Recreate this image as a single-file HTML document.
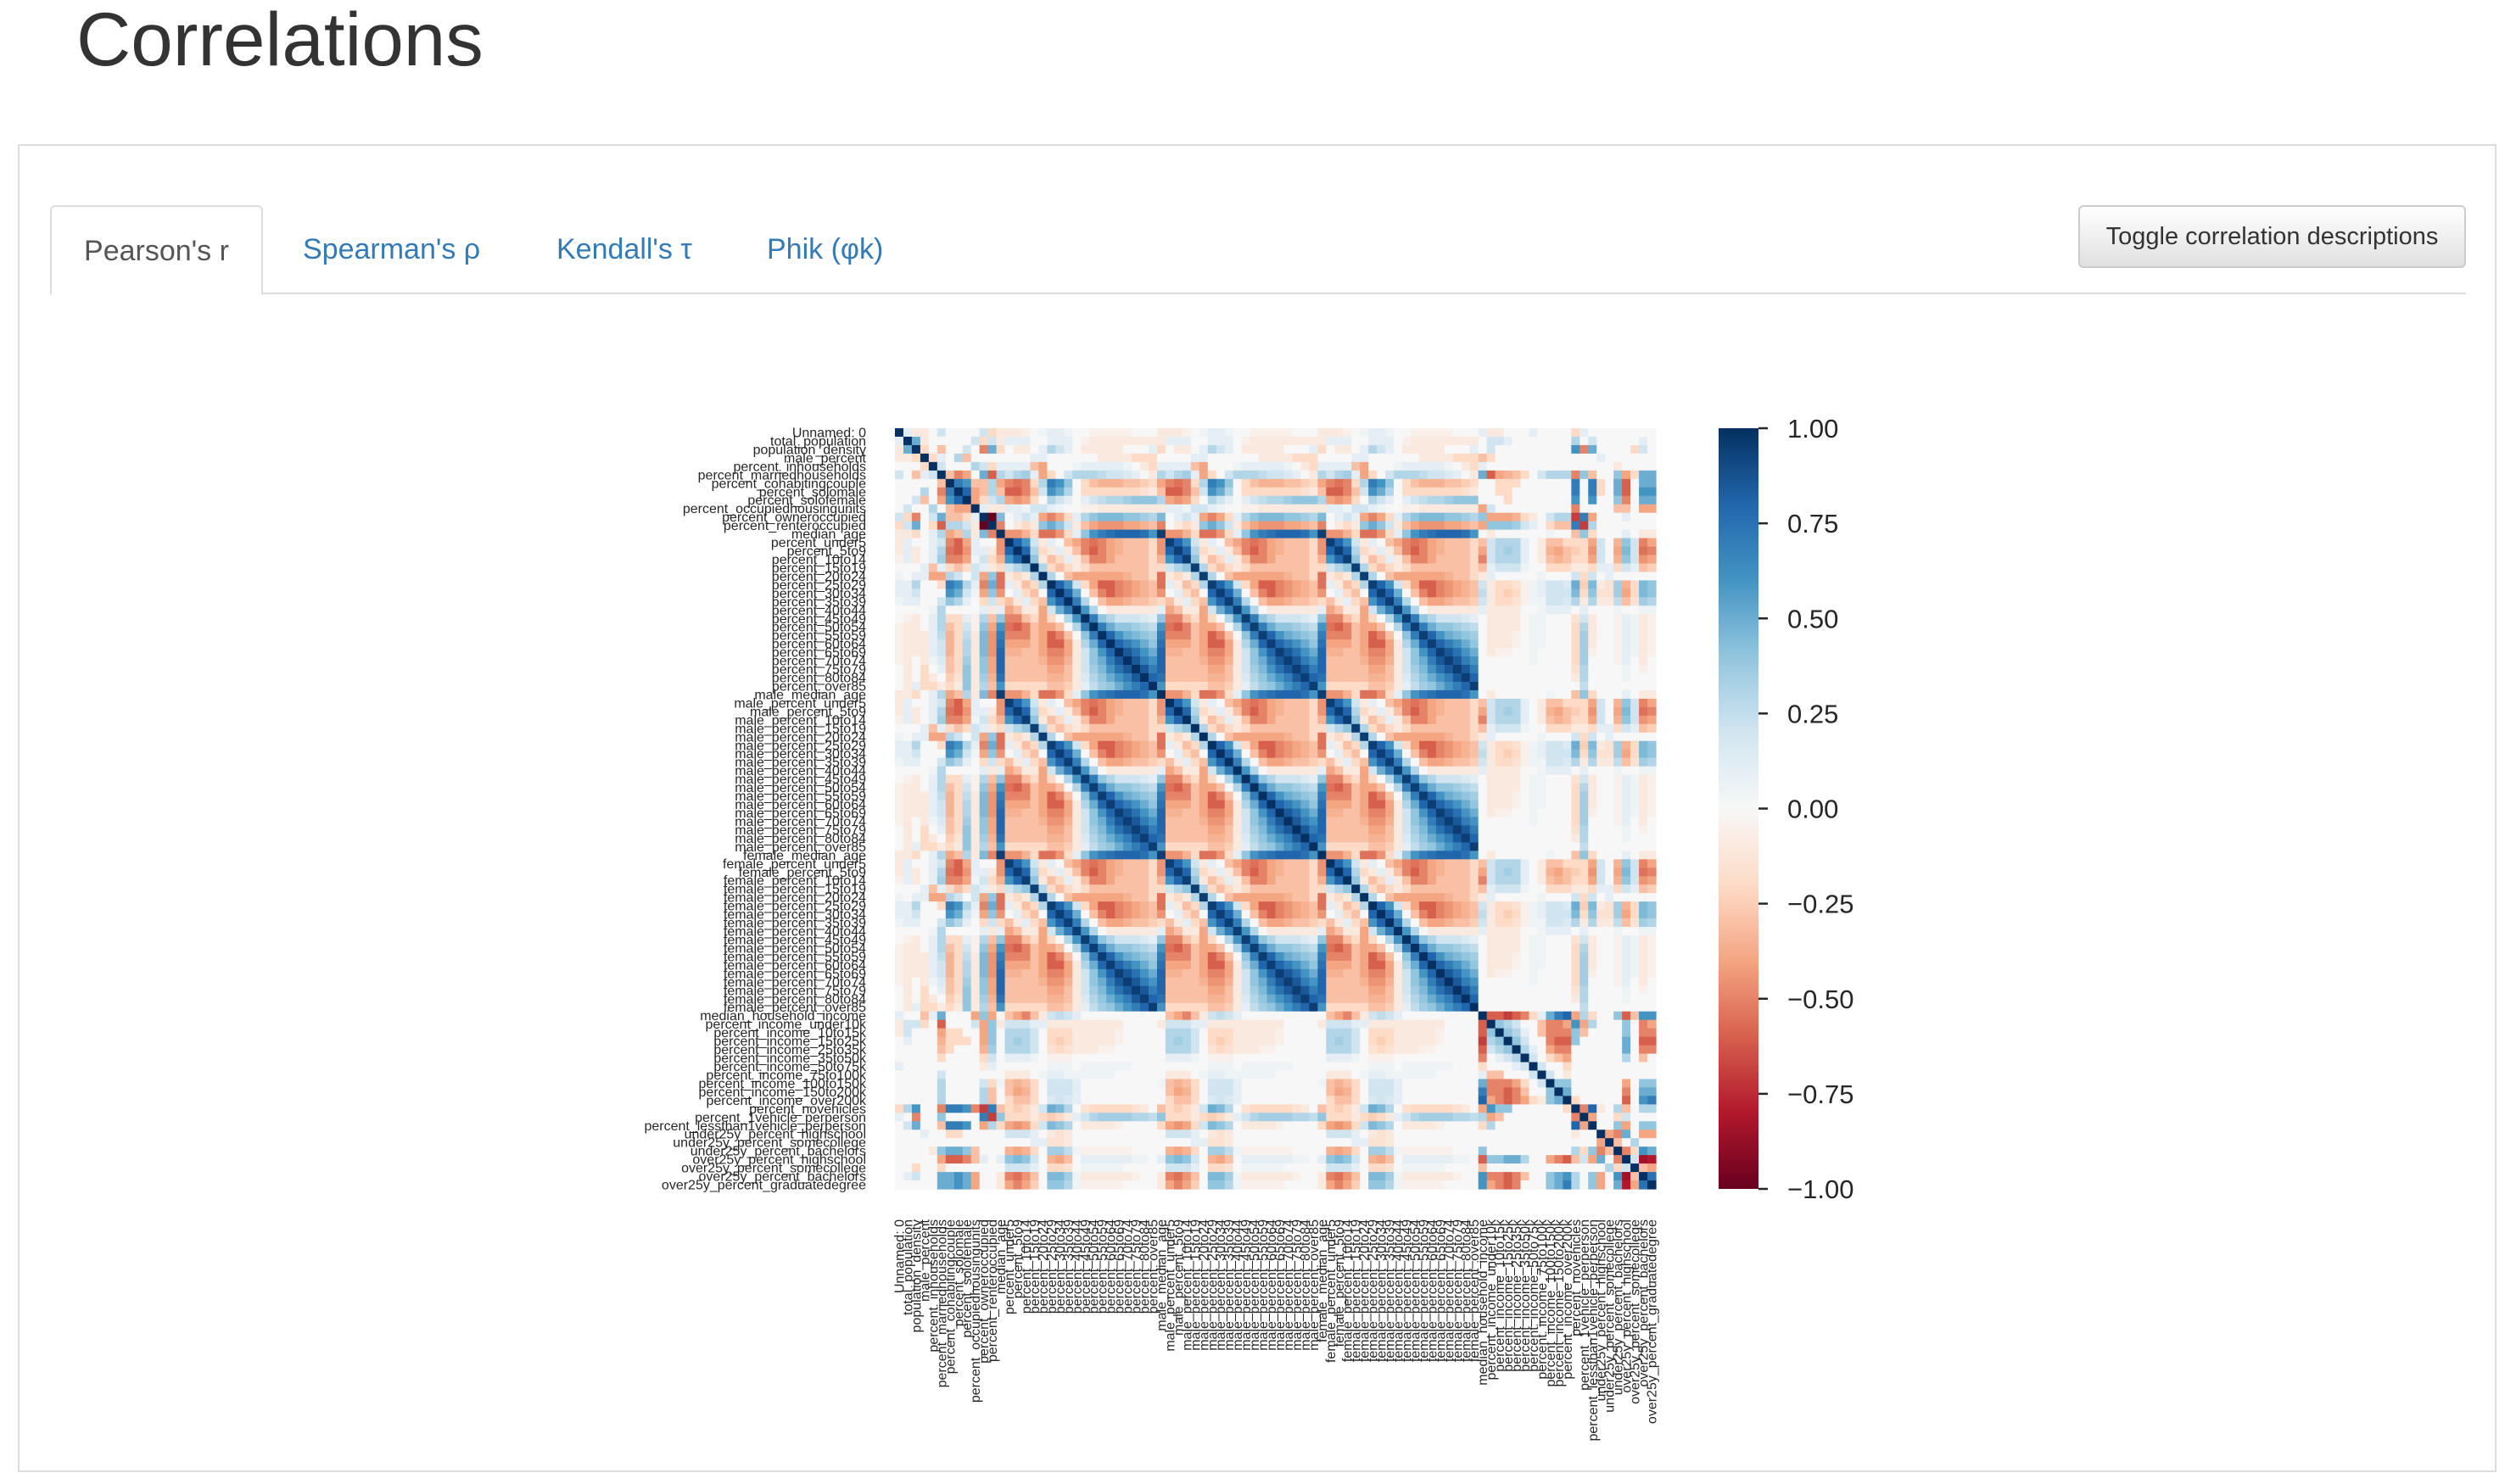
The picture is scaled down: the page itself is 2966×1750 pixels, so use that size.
<!DOCTYPE html>
<html><head><meta charset="utf-8">
<style>
html,body{margin:0;padding:0;background:#fff;}
body{width:2966px;height:1750px;position:relative;overflow:hidden;font-family:"Liberation Sans",Arial,sans-serif;color:#333;}
#title{position:absolute;left:90px;top:-5px;font-size:89px;font-weight:400;color:#333;margin:0;}
#panel{position:absolute;left:21px;top:170px;width:2922px;height:1566px;border:2px solid #ddd;box-sizing:border-box;}
#tabline{position:absolute;left:59px;top:345px;width:2848px;height:2px;background:#ddd;}
.tab{position:absolute;top:242px;height:104px;line-height:104px;font-size:34px;color:#337ab7;}
#tab-active{left:59px;width:251px;border:2px solid #ddd;border-bottom:2px solid #fff;box-sizing:border-box;text-align:center;color:#555;background:#fff;height:106px;border-radius:6px 6px 0 0;}
#btn{position:absolute;left:2450px;top:242px;width:457px;height:74px;box-sizing:border-box;border:2px solid #ccc;border-radius:6px;background:linear-gradient(#fff,#e0e0e0);font-size:29px;line-height:70px;text-align:center;color:#333;}
svg{position:absolute;left:0;top:0;}
</style></head>
<body>
<h1 id="title">Correlations</h1>
<div id="panel"></div>
<div id="tabline"></div>
<div class="tab" id="tab-active">Pearson's r</div>
<div class="tab" style="left:357px">Spearman's ρ</div>
<div class="tab" style="left:656px">Kendall's τ</div>
<div class="tab" style="left:904px">Phik (φk)</div>
<div id="btn">Toggle correlation descriptions</div>
<svg id="chart" width="2966" height="1750"></svg>
<script>
const labels = ["Unnamed: 0","total_population","population_density","male_percent","percent_inhouseholds","percent_marriedhouseholds","percent_cohabitingcouple","percent_solomale","percent_solofemale","percent_occupiedhousingunits","percent_owneroccupied","percent_renteroccupied"];
const ageNames = ["median_age","percent_under5","percent_5to9","percent_10to14","percent_15to19","percent_20to24","percent_25to29","percent_30to34","percent_35to39","percent_40to44","percent_45to49","percent_50to54","percent_55to59","percent_60to64","percent_65to69","percent_70to74","percent_75to79","percent_80to84","percent_over85"];
const tailLabels = ["median_household_income","percent_income_under10k","percent_income_10to15k","percent_income_15to25k","percent_income_25to35k","percent_income_35to50k","percent_income_50to75k","percent_income_75to100k","percent_income_100to150k","percent_income_150to200k","percent_income_over200k","percent_novehicles","percent_1vehicle_perperson","percent_lessthan1vehicle_perperson","under25y_percent_highschool","under25y_percent_somecollege","under25y_percent_bachelors","over25y_percent_highschool","over25y_percent_somecollege","over25y_percent_bachelors","over25y_percent_graduatedegree"];
const ageCorr = [
[1,-.45,-.45,-.35,-.2,-.55,-.55,-.45,-.2,.1,.4,.6,.7,.75,.8,.8,.8,.75,.6],
[-.45,1,.8,.6,.2,-.1,.1,0,-.3,-.4,-.5,-.55,-.5,-.4,-.35,-.3,-.3,-.3,-.2],
[-.45,.8,1,.8,.3,-.2,-.1,.1,-.1,-.3,-.5,-.6,-.5,-.4,-.35,-.3,-.3,-.3,-.2],
[-.35,.6,.8,1,.4,-.1,-.3,-.2,.1,-.1,-.3,-.5,-.5,-.4,-.3,-.3,-.3,-.3,-.2],
[-.2,.2,.3,.4,1,.3,-.2,-.3,-.2,-.1,-.2,-.3,-.3,-.3,-.3,-.3,-.3,-.3,-.2],
[-.55,-.1,-.2,-.1,.3,1,.3,0,-.3,-.4,-.4,-.4,-.4,-.4,-.4,-.35,-.3,-.3,-.2],
[-.55,.1,-.1,-.3,-.2,.3,1,.8,.6,.2,-.2,-.4,-.6,-.6,-.5,-.45,-.4,-.35,-.3],
[-.45,0,.1,-.2,-.3,0,.8,1,.8,.5,0,-.3,-.5,-.6,-.5,-.45,-.4,-.35,-.3],
[-.2,-.3,-.1,.1,-.2,-.3,.6,.8,1,.7,.3,0,-.3,-.4,-.4,-.35,-.3,-.3,-.25],
[.1,-.4,-.3,-.1,-.1,-.4,.2,.5,.7,1,.6,.3,0,-.1,-.1,-.1,-.1,-.1,-.1],
[.4,-.5,-.5,-.3,-.2,-.4,-.2,0,.3,.6,1,.7,.4,.3,.2,.2,.2,.15,.1],
[.6,-.55,-.6,-.5,-.3,-.4,-.4,-.3,0,.3,.7,1,.7,.5,.4,.4,.35,.3,.25],
[.7,-.5,-.5,-.5,-.3,-.4,-.6,-.5,-.3,0,.4,.7,1,.8,.6,.5,.45,.4,.35],
[.75,-.4,-.4,-.4,-.3,-.4,-.6,-.6,-.4,-.1,.3,.5,.8,1,.8,.7,.6,.5,.4],
[.8,-.35,-.35,-.3,-.3,-.4,-.5,-.5,-.4,-.1,.2,.4,.6,.8,1,.85,.75,.6,.5],
[.8,-.3,-.3,-.3,-.3,-.35,-.45,-.45,-.35,-.1,.2,.4,.5,.7,.85,1,.85,.7,.6],
[.8,-.3,-.3,-.3,-.3,-.3,-.4,-.4,-.3,-.1,.2,.35,.45,.6,.75,.85,1,.85,.7],
[.75,-.3,-.3,-.3,-.3,-.3,-.35,-.35,-.3,-.1,.15,.3,.4,.5,.6,.7,.85,1,.8],
[.6,-.2,-.2,-.2,-.2,-.2,-.3,-.3,-.25,-.1,.1,.25,.35,.4,.5,.6,.7,.8,1]];
const crossDiag = 0.95;
const ageOther = [
[-.1,-.1,-.1,-.05,0,.05,.1,.1,.05,0,0,-.05,-.05,-.05,-.05,-.05,0,0,0],
[-.1,.1,.1,.1,0,0,.1,.1,.1,0,-.05,-.1,-.1,-.1,-.1,-.1,-.1,-.1,-.1],
[-.2,0,-.1,-.1,0,.1,.3,.2,.1,0,-.1,-.1,-.1,-.1,-.1,0,0,0,.1],
[0,0,0,0,.1,.1,0,0,0,0,0,0,-.1,-.1,-.1,-.1,-.2,-.2,-.2],
[.1,.1,.1,.1,-.3,-.4,0,0,0,.05,.1,.1,.1,.1,.1,.05,0,-.1,-.2],
[.3,.2,.3,.35,.1,-.4,-.2,0,.2,.3,.3,.3,.25,.2,.2,.15,.1,0,-.1],
[-.4,-.5,-.55,-.5,-.2,.3,.7,.6,.4,0,-.2,-.3,-.35,-.35,-.35,-.3,-.3,-.25,-.2],
[-.3,-.6,-.6,-.5,-.3,.2,.6,.5,.3,0,-.2,-.2,-.2,-.2,-.2,-.2,-.2,-.15,-.1],
[.3,-.4,-.45,-.4,-.2,0,.3,.2,.1,0,.1,.2,.25,.3,.3,.35,.4,.4,.4],
[-.1,.1,.1,.05,.2,.2,.1,.05,0,0,-.05,-.05,-.1,-.1,-.1,-.1,-.1,-.1,-.1],
[.45,0,.1,.2,.1,-.4,-.5,-.4,-.2,.1,.3,.4,.45,.45,.45,.4,.4,.35,.3],
[-.5,0,-.1,-.2,-.1,.4,.5,.4,.2,-.1,-.3,-.4,-.45,-.45,-.45,-.4,-.4,-.35,-.3],
[0,-.3,-.4,-.5,-.3,-.1,.2,.25,.2,.1,0,0,0,0,0,0,0,0,0],
[-.1,.2,.2,.2,.1,.1,-.1,-.1,-.1,-.1,-.1,-.1,-.1,-.1,-.1,0,0,0,0],
[0,.3,.3,.3,.2,0,-.2,-.2,-.2,-.1,-.1,-.1,-.1,-.1,-.05,0,0,0,0],
[0,.3,.35,.3,.2,0,-.2,-.25,-.2,-.1,-.1,-.1,-.1,-.1,-.05,0,0,0,0],
[0,.3,.3,.3,.2,0,-.15,-.2,-.15,-.1,-.1,-.1,-.05,-.05,0,0,0,0,0],
[0,.1,.1,.1,.05,0,-.05,-.05,-.05,0,0,0,0,0,0,0,0,0,0],
[0,0,0,0,0,0,.05,.05,.05,0,.05,.05,.05,.05,.05,.05,0,0,0],
[0,-.1,-.1,-.1,0,.05,.1,.1,.05,.05,.05,.05,.05,.05,0,0,0,0,0],
[.05,-.3,-.35,-.3,-.2,0,.2,.2,.2,.1,0,0,0,0,0,0,0,0,0],
[0,-.3,-.4,-.35,-.2,0,.2,.2,.2,.1,0,0,0,0,0,0,0,0,0],
[0,-.2,-.3,-.3,-.2,0,.15,.2,.15,.1,0,0,0,0,0,0,0,0,0],
[-.3,-.2,-.25,-.2,-.1,.2,.5,.45,.3,0,-.15,-.2,-.2,-.2,-.2,-.2,-.15,-.1,0],
[.4,-.2,-.2,-.2,-.1,-.2,-.25,-.2,-.1,.1,.2,.3,.35,.35,.35,.35,.3,.3,.25],
[-.2,-.4,-.45,-.4,-.2,.2,.45,.4,.3,0,-.1,-.1,-.1,-.1,-.05,0,0,0,0],
[0,.2,.2,.2,.1,0,-.1,-.15,-.1,0,0,0,0,0,0,0,0,0,0],
[0,0,0,0,.1,.1,-.15,-.15,-.1,0,0,0,0,0,0,0,0,0,0],
[0,-.35,-.4,-.35,-.2,0,.35,.35,.25,.05,-.05,-.05,-.05,-.05,-.05,-.05,0,0,0],
[.1,.4,.45,.4,.2,0,-.35,-.4,-.3,0,.1,.1,.1,.1,.1,.1,.05,.05,0],
[0,.2,.2,.2,.1,0,-.2,-.2,-.15,0,.05,.05,.05,.05,.05,0,0,0,0],
[-.1,-.5,-.55,-.45,-.3,0,.45,.45,.35,.05,-.1,-.1,-.1,-.1,-.1,-.1,-.05,0,0],
[-.1,-.4,-.5,-.4,-.25,0,.4,.4,.3,.05,-.05,-.05,-.05,-.05,-.05,0,0,0,0]];
const otherPairs = [
[0,1,.1],[0,2,-.1],[0,3,-.1],[0,5,.2],[0,10,.2],[0,11,-.2],[0,12,.1],[0,13,-.1],[0,14,-.1],[0,18,.1],[0,23,-.2],[0,24,.1],
[1,2,.5],[1,3,-.1],[1,9,.2],[1,10,-.2],[1,11,.2],[1,13,.2],[1,14,.2],[1,15,.1],[1,23,.3],[1,25,.2],[1,31,.1],
[2,3,-.2],[2,5,-.3],[2,8,.2],[2,10,-.5],[2,11,.5],[2,13,.2],[2,23,.6],[2,24,-.5],[2,25,.5],[2,30,-.2],[2,31,.2],
[3,4,-.2],[3,5,.1],[3,7,.3],[3,8,-.3],[3,12,-.3],[3,13,-.2],[3,26,.1],
[4,5,.2],[4,9,.3],[4,10,.2],[4,11,-.2],[4,12,.1],[4,28,-.1],
[5,6,-.3],[5,7,-.5],[5,8,-.4],[5,10,.5],[5,11,-.6],[5,12,.5],[5,13,-.6],[5,14,-.4],[5,15,-.35],[5,16,-.3],[5,17,-.2],[5,19,.2],[5,20,.3],[5,21,.3],[5,22,.3],[5,23,-.5],[5,24,.4],[5,25,-.3],[5,28,.4],[5,29,-.4],[5,30,-.2],[5,31,.5],[5,32,.5],
[6,7,.7],[6,8,.6],[6,9,-.3],[6,10,-.3],[6,11,.3],[6,14,-.2],[6,15,-.2],[6,16,-.2],[6,23,.7],[6,25,.7],[6,26,-.2],[6,28,.5],[6,29,-.6],[6,31,.5],[6,32,.5],
[7,8,.8],[7,9,-.4],[7,10,-.3],[7,11,.3],[7,14,-.2],[7,15,-.2],[7,23,.7],[7,25,.7],[7,26,-.2],[7,28,.5],[7,29,-.6],[7,31,.6],[7,32,.6],
[8,9,-.4],[8,10,-.2],[8,11,.2],[8,15,-.2],[8,23,.6],[8,25,.6],[8,28,.4],[8,29,-.5],[8,31,.5],[8,32,.5],
[9,10,.1],[9,11,-.1],[9,12,-.4],[9,13,.2],[9,23,-.5],[9,28,-.3],[9,29,-.3],[9,31,-.4],[9,32,-.4],
[10,11,-1],[10,12,.4],[10,13,-.4],[10,14,-.4],[10,15,-.4],[10,16,-.35],[10,17,-.2],[10,18,-.1],[10,20,.2],[10,21,.3],[10,22,.3],[10,23,-.7],[10,24,.7],[10,25,-.4],[10,29,.1],
[11,12,-.4],[11,13,.4],[11,14,.4],[11,15,.4],[11,16,.35],[11,17,.2],[11,18,.1],[11,20,-.2],[11,21,-.3],[11,22,-.3],[11,23,.7],[11,24,-.7],[11,25,.3],
[12,13,-.6],[12,14,-.6],[12,15,-.7],[12,16,-.6],[12,17,-.5],[12,18,-.2],[12,19,.1],[12,20,.5],[12,21,.7],[12,22,.8],[12,23,-.4],[12,24,.3],[12,25,-.2],[12,28,.4],[12,29,-.6],[12,30,-.3],[12,31,.6],[12,32,.6],
[13,14,.4],[13,15,.3],[13,16,.2],[13,17,0],[13,19,-.3],[13,20,-.5],[13,21,-.5],[13,22,-.4],[13,23,.6],[13,24,-.4],[13,25,.3],[13,29,.4],[13,31,-.5],[13,32,-.4],
[14,15,.4],[14,16,.3],[14,17,.1],[14,19,-.3],[14,20,-.5],[14,21,-.5],[14,22,-.5],[14,23,.4],[14,24,-.3],[14,29,.4],[14,31,-.5],[14,32,-.5],
[15,16,.4],[15,17,.2],[15,20,-.5],[15,21,-.6],[15,22,-.6],[15,23,.4],[15,29,.5],[15,31,-.6],[15,32,-.6],
[16,17,.3],[16,18,.1],[16,20,-.4],[16,21,-.5],[16,22,-.5],[16,29,.5],[16,31,-.5],[16,32,-.5],
[17,18,.2],[17,20,-.2],[17,21,-.3],[17,22,-.4],[17,29,.3],[17,31,-.3],
[18,19,.2],[18,22,-.2],
[19,20,.2],[19,22,-.1],
[20,21,.4],[20,22,.4],[20,29,-.4],[20,31,.4],[20,32,.4],
[21,22,.5],[21,29,-.5],[21,31,.5],[21,32,.5],
[22,23,-.2],[22,29,-.6],[22,31,.6],[22,32,.7],
[23,24,-.5],[23,25,.8],[23,26,-.1],[23,28,.3],[23,29,-.3],[23,31,.3],[23,32,.3],
[24,25,-.4],[24,28,-.2],[24,29,.2],
[25,28,.4],[25,29,-.4],[25,31,.4],[25,32,.4],
[26,27,-.4],[26,28,-.5],[26,29,.5],[26,31,-.4],[26,32,-.4],
[27,28,-.3],[27,30,.3],
[28,29,-.5],[28,30,-.2],[28,31,.6],[28,32,.5],
[29,30,.2],[29,31,-.85],[29,32,-.8],
[30,31,-.3],[30,32,-.4],
[31,32,.75]];
const cbTicks = [1,0.75,0.5,0.25,0,-0.25,-0.5,-0.75,-1];

const allLabels = labels.concat(ageNames, ageNames.map(s=>"male_"+s), ageNames.map(s=>"female_"+s), tailLabels);
allLabels[31] = "male_median_age"; allLabels[50] = "female_median_age";
const N = allLabels.length;
const pairMap = {};
otherPairs.forEach(p=>{pairMap[p[0]+","+p[1]]=p[2];pairMap[p[1]+","+p[0]]=p[2];});
function kind(i){
  if(i<12) return {t:'o',k:i};
  if(i<31) return {t:'a',k:i-12,g:0};
  if(i<50) return {t:'a',k:i-31,g:1};
  if(i<69) return {t:'a',k:i-50,g:2};
  return {t:'o',k:i-69+12};
}
function corr(i,j){
  if(i===j) return 1;
  const a=kind(i), b=kind(j);
  if(a.t==='a'&&b.t==='a'){
    if(a.g!==b.g && a.k===b.k) return crossDiag;
    return ageCorr[a.k][b.k];
  }
  if(a.t==='o'&&b.t==='a') return ageOther[a.k][b.k];
  if(a.t==='a'&&b.t==='o') return ageOther[b.k][a.k];
  const v = pairMap[a.k+","+b.k];
  return v===undefined?0:v;
}
const stops = ["#67001f","#b2182b","#d6604d","#f4a582","#fddbc7","#f7f7f7","#d1e5f0","#92c5de","#4393c3","#2166ac","#053061"];
function hex(h){return [parseInt(h.substr(1,2),16),parseInt(h.substr(3,2),16),parseInt(h.substr(5,2),16)];}
function color(v){
  v=Math.max(-1,Math.min(1,v));
  const t=(v+1)/2*10, i=Math.min(9,Math.floor(t)), f=t-i;
  const a=hex(stops[i]), b=hex(stops[i+1]);
  return "rgb("+a.map((c,k)=>Math.round(c+(b[k]-c)*f)).join(",")+")";
}
const X0=1055, Y0=505, SIZE=897, cw=SIZE/N;
const xPos = j => X0 + j*cw;
const yPos = i => Y0 + i*cw;
const NS="http://www.w3.org/2000/svg";
const svg=document.getElementById('chart');
const g=document.createElementNS(NS,'g');


svg.appendChild(g);
for(let i=0;i<N;i++){for(let j=0;j<N;j++){
  const r=document.createElementNS(NS,'rect');
  r.setAttribute('x',xPos(j).toFixed(2)); r.setAttribute('y',yPos(i).toFixed(2));
  r.setAttribute('width',(cw+0.6).toFixed(2)); r.setAttribute('height',(cw+0.6).toFixed(2));
  r.setAttribute('fill',color(corr(i,j)));
  
  
  g.appendChild(r);
}}
for(let i=0;i<N;i++){
  const t=document.createElementNS(NS,'text');
  t.setAttribute('x',1021); t.setAttribute('y',(yPos(i)+cw/2+5.5).toFixed(1));
  t.setAttribute('text-anchor','end'); t.setAttribute('font-size','16'); t.setAttribute('fill','#262626');
  t.setAttribute('font-family','"Liberation Sans",Arial,sans-serif');
  t.textContent=allLabels[i];
  
  
  svg.appendChild(t);
  const u=document.createElementNS(NS,'text');
  const cx=xPos(i)+cw/2+5.5;
  u.setAttribute('x',0); u.setAttribute('y',0);
  u.setAttribute('transform','translate('+cx.toFixed(1)+',1438) rotate(-90)');
  u.setAttribute('text-anchor','end'); u.setAttribute('font-size','16'); u.setAttribute('fill','#262626');
  u.setAttribute('font-family','"Liberation Sans",Arial,sans-serif');
  u.textContent=allLabels[i];
  
  
  svg.appendChild(u);
}
const CBX=2026, CBW=47, CBY=505, CBH=897;
const defs=document.createElementNS(NS,'defs');
const lg=document.createElementNS(NS,'linearGradient');
lg.setAttribute('id','cbgrad'); lg.setAttribute('x1','0'); lg.setAttribute('y1','0'); lg.setAttribute('x2','0'); lg.setAttribute('y2','1');
for(let k=0;k<=40;k++){const s=document.createElementNS(NS,'stop');s.setAttribute('offset',k/40);s.setAttribute('stop-color',color(1-2*k/40));lg.appendChild(s);}
defs.appendChild(lg); svg.appendChild(defs);
const cb=document.createElementNS(NS,'rect');
cb.setAttribute('x',CBX);cb.setAttribute('y',CBY);cb.setAttribute('width',CBW);cb.setAttribute('height',CBH);cb.setAttribute('fill','url(#cbgrad)');


svg.appendChild(cb);
const cbY = v => CBY + (1-v)/2*CBH;
cbTicks.forEach(v=>{
  const l=document.createElementNS(NS,'line');
  l.setAttribute('x1',CBX+CBW);l.setAttribute('x2',CBX+CBW+11);l.setAttribute('y1',cbY(v));l.setAttribute('y2',cbY(v));
  l.setAttribute('stroke','#262626');l.setAttribute('stroke-width','2.5');
  
  
  svg.appendChild(l);
  const t=document.createElementNS(NS,'text');
  t.setAttribute('x',2107);t.setAttribute('y',cbY(v)+11);
  t.setAttribute('font-size','31');t.setAttribute('fill','#262626');
  t.setAttribute('font-family','"Liberation Sans",Arial,sans-serif');
  t.textContent=(v<0?"\u2212":"")+Math.abs(v).toFixed(2);
  
  
  svg.appendChild(t);
});
</script>
</body></html>
